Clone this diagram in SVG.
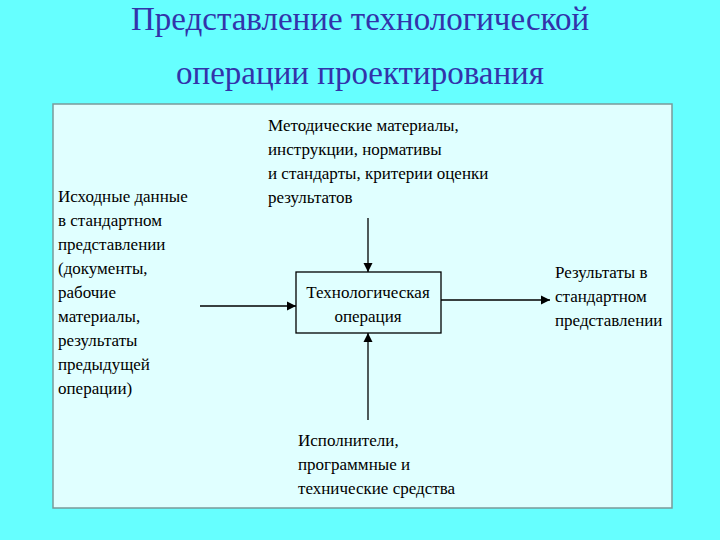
<svg xmlns="http://www.w3.org/2000/svg" width="720" height="540" viewBox="0 0 720 540">
<style>
.t{font-family:"Liberation Serif","Times New Roman",serif;font-size:17px;fill:#000}
.h{font-family:"Liberation Serif","Times New Roman",serif;font-size:33px;fill:#3333aa;text-anchor:middle}
.c{stroke:#000;stroke-width:1.3;fill:none;marker-end:url(#a)}
</style>
<defs><marker id="a" viewBox="0 0 10 10" refX="10" refY="5" markerWidth="9" markerHeight="11" markerUnits="userSpaceOnUse" orient="auto"><path d="M0,0L10,5L0,10z" fill="#000"/></marker></defs>
<rect width="720" height="540" fill="#66FFFF"/>
<text class="h" x="360" y="30">Представление технологической</text>
<text class="h" x="360" y="84">операции проектирования</text>
<rect x="53" y="104" width="619" height="404" fill="#E0FFFF" stroke="#7a9a9a" stroke-width="1.5"/>
<g id="connectors">
<line class="c" x1="368" y1="218" x2="368" y2="272"/>
<line class="c" x1="200" y1="306" x2="296" y2="306"/>
<line class="c" x1="441" y1="300" x2="550" y2="300"/>
<line class="c" x1="368" y1="420" x2="368" y2="333"/>
</g>
<g id="op">
<rect x="296" y="272" width="145" height="61" fill="#E0FFFF" stroke="#000" stroke-width="1.3"/>
<text class="t" x="368" y="298" text-anchor="middle">Технологическая</text>
<text class="t" x="368" y="322" text-anchor="middle">операция</text>
</g>
<g id="control">
<text class="t" x="268" y="131">Методические материалы,</text>
<text class="t" x="268" y="155">инструкции, нормативы</text>
<text class="t" x="268" y="179">и стандарты, критерии оценки</text>
<text class="t" x="268" y="203">результатов</text>
</g>
<g id="input">
<text class="t" x="58" y="202">Исходные данные</text>
<text class="t" x="58" y="226">в стандартном</text>
<text class="t" x="58" y="250">представлении</text>
<text class="t" x="58" y="274">(документы,</text>
<text class="t" x="58" y="298">рабочие</text>
<text class="t" x="58" y="322">материалы,</text>
<text class="t" x="58" y="346">результаты</text>
<text class="t" x="58" y="370">предыдущей</text>
<text class="t" x="58" y="394">операции)</text>
</g>
<g id="output">
<text class="t" x="555" y="278">Результаты в</text>
<text class="t" x="555" y="302">стандартном</text>
<text class="t" x="555" y="326">представлении</text>
</g>
<g id="mech">
<text class="t" x="298" y="446">Исполнители,</text>
<text class="t" x="298" y="470">программные и</text>
<text class="t" x="298" y="494">технические средства</text>
</g>
</svg>
